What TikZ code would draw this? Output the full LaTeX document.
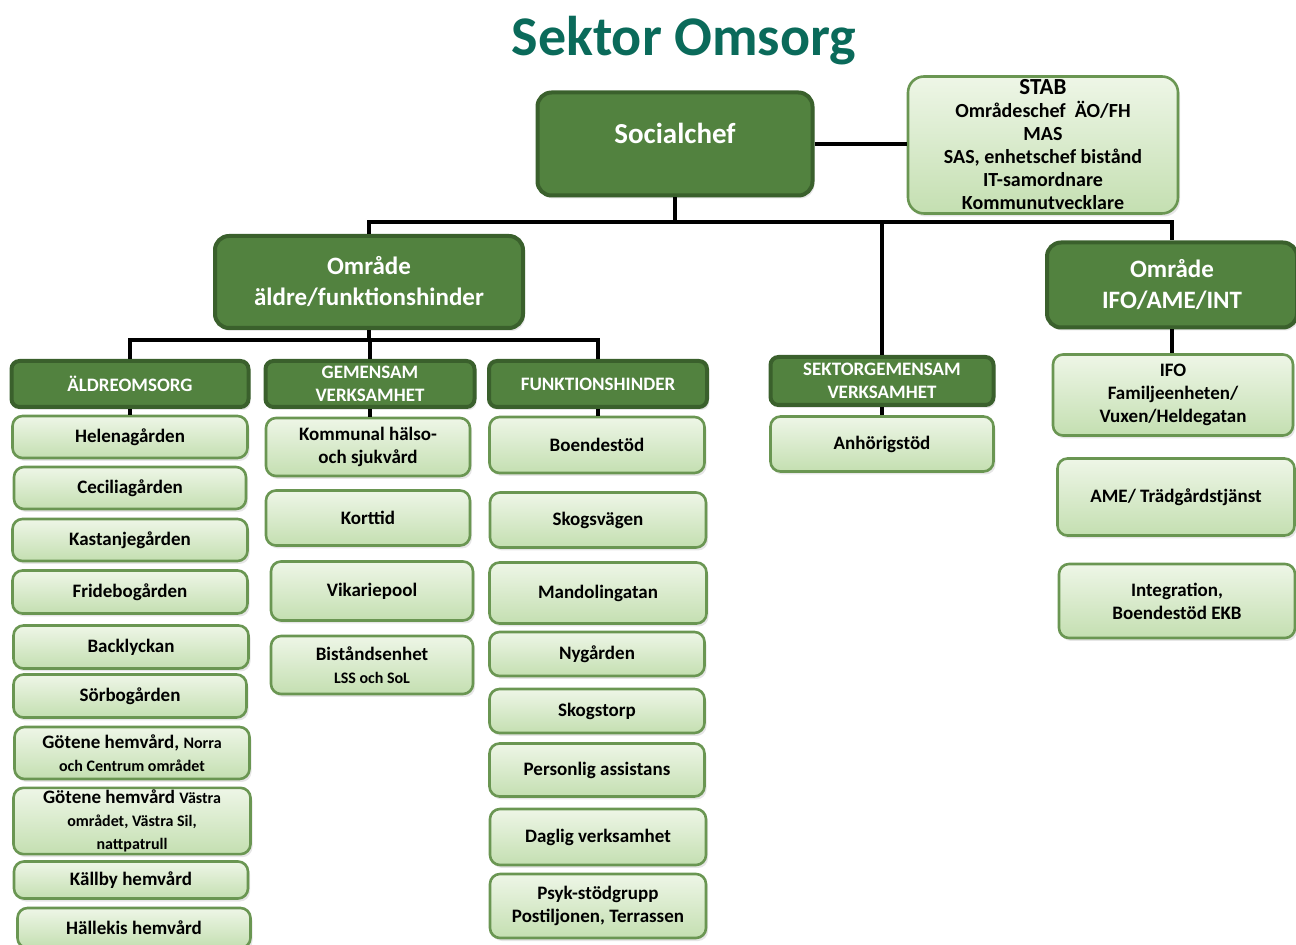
\documentclass[tikz,border=0pt]{standalone}
\usepackage{fontspec}
\setmainfont{Carlito}
\usepackage{tikz}
\usetikzlibrary{positioning,shadows}
\definecolor{leafgreen}{RGB}{82,130,63}
\definecolor{leafedge}{RGB}{58,96,44}
\definecolor{palegreen}{RGB}{238,246,231}
\definecolor{mossgreen}{RGB}{196,223,177}
\definecolor{unitedge}{RGB}{106,150,82}
\definecolor{titleteal}{RGB}{10,106,90}
\tikzset{
    wh/.style 2 args={
           minimum width=#1*0.5pt,
           minimum height=#2*0.5pt,
           },
    chief/.style={
           rectangle,
           rounded corners=7pt,
           draw=leafedge, line width=2pt,
           fill=leafgreen,
           text=white,
           inner sep=1pt,
           align=center,
           font=\bfseries\fontsize{14.5}{17}\selectfont,
           drop shadow={shadow xshift=1pt, shadow yshift=-1.5pt, opacity=0.2},
           },
    area/.style={
           chief,
           font=\bfseries\fontsize{12.5}{15.5}\selectfont,
           },
    head/.style={
           chief,
           rounded corners=4pt,
           font=\bfseries\fontsize{9.5}{11.5}\selectfont,
           },
    unit/.style={
           rectangle,
           rounded corners=5pt,
           draw=unitedge, line width=1.3pt,
           top color=palegreen, bottom color=mossgreen,
           text=black,
           inner sep=1pt,
           align=center,
           font=\bfseries\fontsize{9.5}{11.5}\selectfont,
           drop shadow={shadow xshift=1pt, shadow yshift=-1.5pt, opacity=0.2},
           },
    link/.style={line width=2pt, black},
}
\newcommand{\smalltxt}{\fontsize{8}{10}\selectfont}
\begin{document}
\begin{tikzpicture}[x=0.5pt, y=-0.5pt]
\useasboundingbox (0,0) rectangle (1296,945);
% title
\node[text=titleteal, font=\bfseries\fontsize{28}{32}\selectfont] (title) at (684,41) {Sektor Omsorg};
% top level
\node[chief, wh={275}{103}, text depth=11pt] (soc) at (675,144) {Socialchef};
\node[unit, wh={270}{137}, rounded corners=8pt, font=\bfseries\fontsize{10}{11.5}\selectfont] (stab) at (1043,145)
    {{\fontsize{11.5}{11.5}\selectfont STAB}\\Områdeschef~~ÄO/FH\\MAS\\SAS, enhetschef bistånd\\IT-samordnare\\Kommunutvecklare};
\node[area, wh={308}{92}] (omrA) at (369,282) {Område\\äldre/funktionshinder};
\node[area, wh={250}{85}] (omrB) at (1172,285) {Område\\IFO/AME/INT};
% second level
\node[head, wh={237}{46}] (aldre) at (130,384) {ÄLDREOMSORG};
\node[head, wh={209}{46}] (gem) at (370,384) {GEMENSAM\\VERKSAMHET};
\node[head, wh={218}{46}] (funk) at (598,384) {FUNKTIONSHINDER};
\node[head, wh={223}{48}] (sekt) at (882,381) {SEKTORGEMENSAM\\VERKSAMHET};
% aldreomsorg
\node[unit, wh={235}{42}] (helena) at (130,437) {Helenagården};
\node[unit, wh={232}{42}] (cecilia) at (130,488) {Ceciliagården};
\node[unit, wh={235}{42}] (kastanj) at (130,540) {Kastanjegården};
\node[unit, wh={235}{43}] (fridebo) at (130,592) {Fridebogården};
\node[unit, wh={235}{43}] (backl) at (131,647) {Backlyckan};
\node[unit, wh={233}{43}] (sorbo) at (130,696) {Sörbogården};
\node[unit, wh={235}{52}] (hvnorra) at (132,753) {Götene hemvård, {\smalltxt Norra}\\{\smalltxt och Centrum området}};
\node[unit, wh={237}{65}] (hvvastra) at (132,821) {Götene hemvård {\smalltxt Västra}\\{\smalltxt området, Västra Sil,}\\{\smalltxt nattpatrull}};
\node[unit, wh={234}{37}] (kallby) at (131,880) {Källby hemvård};
\node[unit, wh={233}{40}] (hallek) at (134,928) {Hällekis hemvård};
% gemensam verksamhet
\node[unit, wh={204}{58}] (kommunal) at (368,447) {Kommunal hälso-\\och sjukvård};
\node[unit, wh={204}{55}] (korttid) at (368,518) {Korttid};
\node[unit, wh={202}{59}] (vikarie) at (372,591) {Vikariepool};
\node[unit, wh={202}{58}] (bistand) at (372,665) {Biståndsenhet\\{\smalltxt LSS och SoL}};
% funktionshinder
\node[unit, wh={215}{56}] (boende) at (597,445) {Boendestöd};
\node[unit, wh={216}{55}] (skogsv) at (598,520) {Skogsvägen};
\node[unit, wh={217}{61}] (mandol) at (598,593) {Mandolingatan};
\node[unit, wh={215}{44}] (nygard) at (597,654) {Nygården};
\node[unit, wh={215}{44}] (skogst) at (597,711) {Skogstorp};
\node[unit, wh={215}{53}] (persass) at (597,770) {Personlig assistans};
\node[unit, wh={216}{56}] (daglig) at (598,837) {Daglig verksamhet};
\node[unit, wh={216}{64}] (psyk) at (598,906) {Psyk-stödgrupp\\Postiljonen, Terrassen};
% sektorgemensam
\node[unit, wh={223}{55}] (anhorig) at (882,444) {Anhörigstöd};
% IFO/AME/INT
\node[unit, wh={240}{81}] (ifo) at (1173,395) {IFO\\Familjeenheten/\\Vuxen/Heldegatan};
\node[unit, wh={237}{77}] (ame) at (1176,497) {AME/ Trädgårdstjänst};
\node[unit, wh={236}{74}] (integ) at (1177,601) {Integration,\\Boendestöd EKB};
% connectors
\coordinate (busA) at (675,222);
\coordinate (busB) at (369,340);
\draw[link] (soc.east) -- (soc.east -| stab.west);
\draw[link] (soc.south) -- (busA);
\draw[link] (omrA.north) |- (busA) -| (omrB.north);
\draw[link] (sekt.north) -- (sekt.north |- busA);
\draw[link] (omrA.south) -- (busB);
\draw[link] (aldre.north) |- (busB) -| (funk.north);
\draw[link] (gem.north) -- (gem.north |- busB);
\draw[link] (aldre.south) -- (helena.north);
\draw[link] (gem.south) -- (gem.south |- kommunal.north);
\draw[link] (funk.south) -- (funk.south |- boende.north);
\draw[link] (sekt.south) -- (anhorig.north);
\draw[link] (omrB.south) -- (omrB.south |- ifo.north);
\end{tikzpicture}
\end{document}
